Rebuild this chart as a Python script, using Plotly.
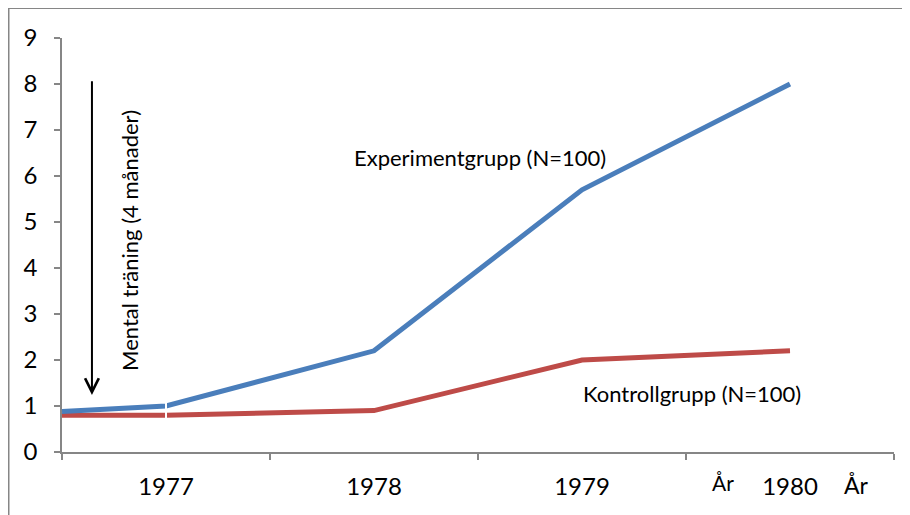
import plotly.graph_objects as go

years = ["1977", "1978", "1979", "1980"]
exp_values = [1.0, 2.2, 5.7, 8.0]
ctrl_values = [0.8, 0.9, 2.0, 2.2]
exp_start = 0.88
ctrl_start = 0.8
y_ticks = [0, 1, 2, 3, 4, 5, 6, 7, 8, 9]

BLUE = "#4A7EBB"
RED = "#BE4B48"
GRAY = "#868686"
FONT = "Lato"

pos = list(range(len(years)))
start_x = -0.5
boundaries = [p - 0.5 for p in pos] + [pos[-1] + 0.5]

fig = go.Figure()
fig.add_trace(go.Scatter(x=[start_x] + pos, y=[ctrl_start] + ctrl_values, mode="lines",
                         line=dict(color=RED, width=5), hoverinfo="skip"))
fig.add_trace(go.Scatter(x=[start_x] + pos, y=[exp_start] + exp_values, mode="lines",
                         line=dict(color=BLUE, width=5), hoverinfo="skip"))
# small white gap at 1977
fig.add_trace(go.Scatter(x=[pos[0], pos[0]], y=[exp_values[0], ctrl_values[0]], mode="markers",
                         marker=dict(symbol="line-ns-open", size=7, color="white",
                                     line=dict(color="white", width=2)),
                         hoverinfo="skip"))
# invisible trace to anchor second x axis (labels)
fig.add_trace(go.Scatter(x=pos, y=[None] * len(pos), xaxis="x2", mode="lines", hoverinfo="skip"))

fig.update_layout(
    width=902, height=507,
    margin=dict(l=54, r=16, t=30, b=63),
    paper_bgcolor="white", plot_bgcolor="white",
    showlegend=False,
    font=dict(family=FONT, color="black", size=20),
    xaxis=dict(range=[boundaries[0], boundaries[-1]], tickvals=boundaries, showticklabels=False,
               ticks="outside", ticklen=6, tickcolor=GRAY, tickwidth=1.5,
               showline=True, linecolor=GRAY, linewidth=1.5, showgrid=False, zeroline=False),
    xaxis2=dict(range=[boundaries[0], boundaries[-1]], overlaying="x", side="bottom",
                tickvals=pos, ticktext=years, ticks="", showline=False, showgrid=False,
                zeroline=False, tickfont=dict(size=24), ticklabelstandoff=18),
    yaxis=dict(range=[0, 9], tickvals=y_ticks, ticks="outside", ticklen=6, tickcolor=GRAY,
               tickwidth=1.5, showline=True, linecolor=GRAY, linewidth=1.5, showgrid=False,
               zeroline=False, tickfont=dict(size=24), ticklabelstandoff=12),
    annotations=[
        dict(x=-0.356, y=1.24, ax=-0.356, ay=8.09, xref="x", yref="y", axref="x", ayref="y",
             text="", showarrow=True, arrowhead=5, arrowsize=1.35, arrowwidth=2, arrowcolor="black"),
        dict(x=-0.173, y=4.59, xref="x", yref="y", text="Mental träning (4 månader)",
             textangle=-90, showarrow=False, font=dict(size=22)),
        dict(x=1.51, y=6.41, xref="x", yref="y", text="Experimentgrupp (N=100)",
             showarrow=False, font=dict(size=22)),
        dict(x=2.53, y=1.28, xref="x", yref="y", text="Kontrollgrupp (N=100)",
             showarrow=False, font=dict(size=22)),
        dict(x=2.678, y=-(482 - 452) / 414, xref="x", yref="paper", yanchor="middle",
             text="År", showarrow=False, font=dict(size=21)),
        dict(x=3.32, y=-(485 - 452) / 414, xref="x", yref="paper", yanchor="middle",
             text="År", showarrow=False, font=dict(size=23)),
    ],
    shapes=[
        dict(type="line", xref="paper", yref="paper", x0=(8.5 - 62) / 832, x1=1.1,
             y0=1 + (38 - 8) / 414, y1=1 + (38 - 8) / 414, line=dict(color=GRAY, width=2)),
        dict(type="line", xref="paper", yref="paper", x0=(8.5 - 62) / 832, x1=(8.5 - 62) / 832,
             y0=-0.3, y1=1 + (38 - 8) / 414, line=dict(color=GRAY, width=2)),
    ],
)

fig.write_html("out.html")
